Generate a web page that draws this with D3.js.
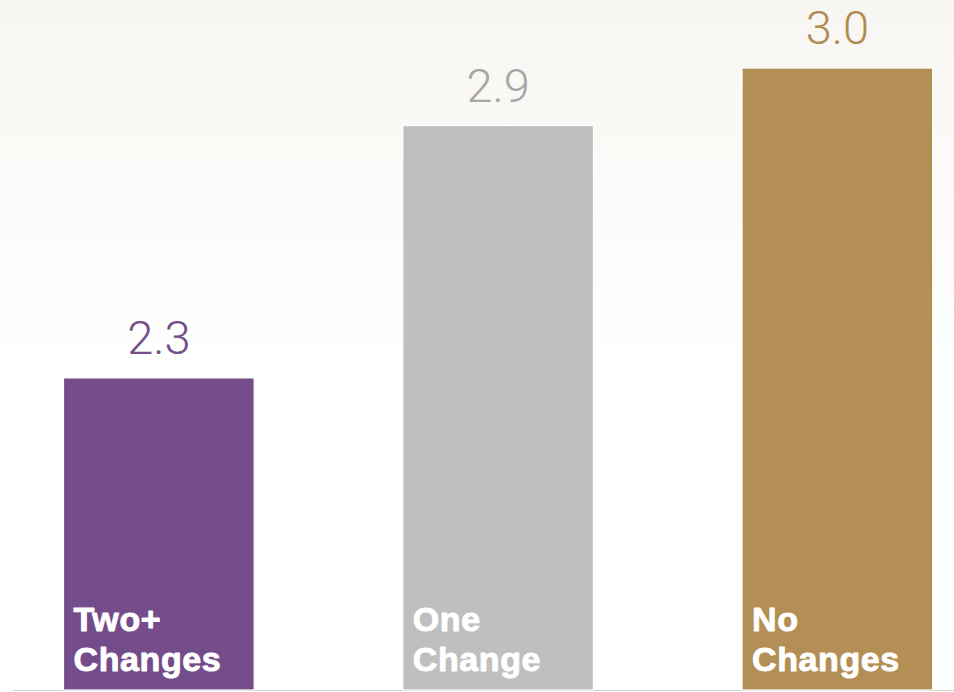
<!DOCTYPE html>
<html>
<head>
<meta charset="utf-8">
<script src="https://cdn.jsdelivr.net/npm/d3@7"></script>
<style>
  html, body { margin: 0; padding: 0; background: #fff; }
  svg { display: block; }
</style>
</head>
<body>
<svg id="chart" width="954" height="692"></svg>
<script>
const categories = [["Two+", "Changes"], ["One", "Change"], ["No", "Changes"]];
const values = [2.3, 2.87, 3.0];
const barColors = ["#734c89", "#bfbfbf", "#b38f55"];
const valueColors = ["#734c89", "#a6a6a6", "#b08b50"];

const W = 954, H = 692;
const svg = d3.select("#chart");

const defs = svg.append("defs");
const grad = defs.append("linearGradient").attr("id", "bg").attr("x1", 0).attr("y1", 0).attr("x2", 0).attr("y2", 1);
grad.append("stop").attr("offset", "0%").attr("stop-color", "#f8f6f2");
grad.append("stop").attr("offset", "55%").attr("stop-color", "#ffffff");
grad.append("stop").attr("offset", "100%").attr("stop-color", "#ffffff");
svg.append("rect").attr("width", W).attr("height", H).attr("fill", "url(#bg)");

const x = d3.scaleBand().domain(d3.range(values.length)).range([63.5, 932.7]).paddingInner(0.438).paddingOuter(0);
const y = d3.scaleLinear().domain([1.595, 3.0]).range([690, 68]);

// baseline
svg.append("line").attr("x1", 13).attr("x2", W).attr("y1", 690.5).attr("y2", 690.5)
  .attr("stroke", "#d0d0d0").attr("stroke-width", 1.2);

const g = svg.selectAll("g.bar").data(values).join("g").attr("class", "bar");

g.append("rect")
  .attr("x", (d, i) => x(i))
  .attr("y", d => y(d))
  .attr("width", x.bandwidth())
  .attr("height", d => y.range()[0] - y(d))
  .attr("fill", (d, i) => barColors[i])
  .attr("stroke", "#ffffff")
  .attr("stroke-width", 1.2);

g.append("text")
  .attr("x", (d, i) => x(i) + x.bandwidth() / 2)
  .attr("y", d => y(d) - 24)
  .attr("text-anchor", "middle")
  .attr("font-family", "Roboto, 'Liberation Sans', sans-serif")
  .attr("font-weight", 300)
  .attr("font-size", 47)
  .attr("fill", (d, i) => valueColors[i])
  .text(d => d3.format(".1f")(d));

g.each(function(d, i) {
  const t = d3.select(this).append("text")
    .attr("font-family", "'Liberation Sans', Arial, sans-serif")
    .attr("font-weight", 700)
    .attr("font-size", 34)
    .attr("letter-spacing", 0.6)
    .attr("fill", "#ffffff")
    .attr("stroke", "#ffffff")
    .attr("stroke-width", 0.9)
    .attr("stroke-linejoin", "round");
  categories[i].forEach((line, k) => {
    t.append("tspan")
      .attr("x", x(i) + 10)
      .attr("y", y.range()[0] - 19 - (categories[i].length - 1 - k) * 40)
      .text(line);
  });
});
</script>
</body>
</html>
